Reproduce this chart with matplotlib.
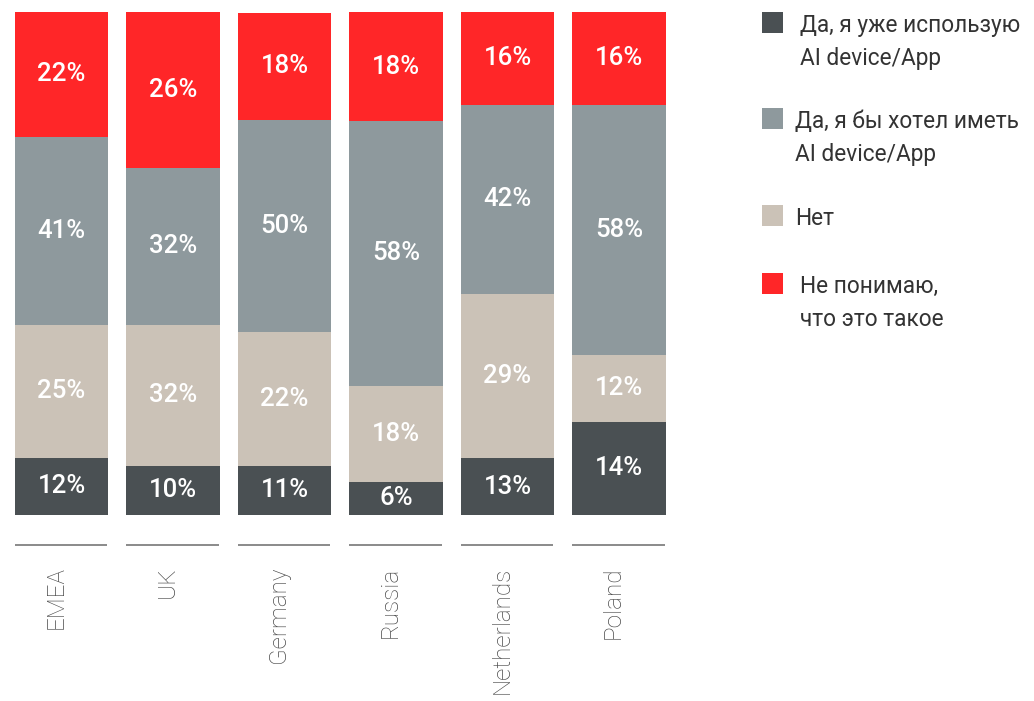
import matplotlib.pyplot as plt
from matplotlib.patches import Rectangle

plt.rcParams['font.family'] = ['Roboto', 'DejaVu Sans']

countries = ["EMEA", "UK", "Germany", "Russia", "Netherlands", "Poland"]

# segment heights as drawn in the picture (share of bar, %), bottom -> top
used = [11.4, 9.8, 9.8, 6.6, 11.3, 18.5]
no = [26.4, 28.0, 26.5, 19.1, 32.7, 13.3]
want = [37.4, 31.2, 42.3, 52.6, 37.6, 49.8]
unsure = [24.8, 31.0, 21.3, 21.7, 18.4, 18.4]

# values printed on the bars
used_lbl = [12, 10, 11, 6, 13, 14]
no_lbl = [25, 32, 22, 18, 29, 12]
want_lbl = [41, 32, 50, 58, 42, 58]
unsure_lbl = [22, 26, 18, 18, 16, 16]

names = ["Да, я уже использую\nAI device/App",
         "Да, я бы хотел иметь\nAI device/App",
         "Нет",
         "Не понимаю,\nчто это такое"]
colors = ["#4a5053", "#8e999d", "#cbc2b7", "#ff2628"]

W, H = 1034, 701
fig = plt.figure(figsize=(W / 100, H / 100), dpi=100)
ax = fig.add_axes([0, 0, 1, 1])
ax.set_xlim(-61.5 / 111.5, (W - 61.5) / 111.5)
ax.set_ylim(-(H - 515) / 5.03, 100 + 12 / 5.03)
ax.axis('off')

x = list(range(len(countries)))
width = 0.843

# stack: used, no, want, unsure (bottom to top)
stack = [(used, used_lbl, colors[0]), (no, no_lbl, colors[2]),
         (want, want_lbl, colors[1]), (unsure, unsure_lbl, colors[3])]
bottom = [0.0] * len(countries)
for vals, lbls, col in stack:
    ax.bar(x, vals, width, bottom=bottom, color=col, linewidth=0)
    for i in x:
        ax.text(i, bottom[i] + vals[i] / 2, "%d%%" % lbls[i], color='white',
                fontsize=18.5, fontweight='medium', ha='center', va='center')
    bottom = [b + v for b, v in zip(bottom, vals)]

# separator lines and category names under bars
for i in x:
    ax.plot([i - width / 2, i + width / 2 - 0.01], [-6.0, -6.0], color='#8a8a8a', lw=1.4,
            solid_capstyle='butt')
    ax.text(i - 0.05, -10.2, countries[i], rotation=90, ha='center', va='top',
            fontsize=17.5, fontweight='light', color='#4a4a4a')

# legend
sq_y = [12, 108, 205, 273]
txt_x = [800, 795, 795, 800]
for k in range(len(names)):
    fig.patches.append(Rectangle((762 / W, 1 - (sq_y[k] + 21) / H), 21 / W, 21 / H,
                                 transform=fig.transFigure, color=colors[k], lw=0))
    fig.text(txt_x[k] / W, 1 - (sq_y[k] + 2) / H, names[k], ha='left', va='top',
             fontsize=16.3, color='#333333', linespacing=1.55)

fig.savefig("out.png", dpi=100, facecolor='white')
